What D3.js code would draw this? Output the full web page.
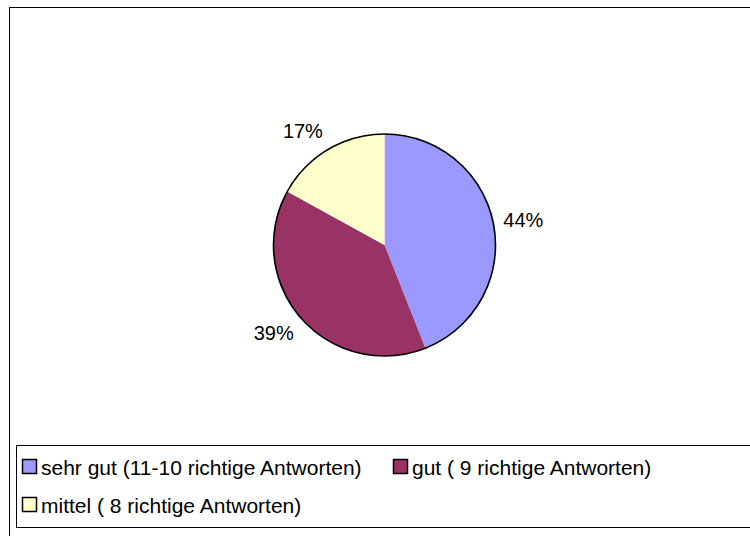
<!DOCTYPE html>
<html>
<head>
<meta charset="utf-8">
<script src="https://cdn.jsdelivr.net/npm/d3@7"></script>
<style>
  html, body { margin: 0; padding: 0; background: #fff; }
  svg { display: block; font-family: "Liberation Sans", Arial, Helvetica, sans-serif; }
</style>
</head>
<body>
<svg id="chart" width="750" height="536"></svg>
<script>
// Ergebnisverteilung (Anteile in Prozent)
const categories = [
  "sehr gut (11-10 richtige Antworten)",
  "gut ( 9 richtige Antworten)",
  "mittel ( 8 richtige Antworten)"
];
const values = [44, 39, 17];
const colors = ["#9999FF", "#993366", "#FFFFCC"];

const svg = d3.select("#chart");

// outer chart frame (runs past the right and bottom edge)
svg.append("rect")
  .attr("x", 9.5).attr("y", 7.5)
  .attr("width", 800).attr("height", 600)
  .attr("fill", "#fff").attr("stroke", "#000").attr("stroke-width", 1);

const cx = 384.5, cy = 245, r = 111;

const data = categories.map((c, i) => ({ name: c, value: values[i], color: colors[i] }));

const pie = d3.pie().value(d => d.value).sort(null);
const arcs = pie(data);
const arc = d3.arc().innerRadius(0).outerRadius(r);

const g = svg.append("g").attr("transform", `translate(${cx},${cy})`);

g.selectAll("path.slice")
  .data(arcs)
  .join("path")
  .attr("class", "slice")
  .attr("d", arc)
  .attr("fill", d => d.data.color)
  .attr("stroke", "none");

// pie outline
g.append("circle")
  .attr("r", r)
  .attr("fill", "none")
  .attr("stroke", "#000")
  .attr("stroke-width", 1.6);

// percentage labels sit just outside the rim, anchored away from the pie
const midAngle = d => (d.startAngle + d.endAngle) / 2;
g.selectAll("text.pct")
  .data(arcs)
  .join("text")
  .attr("class", "pct")
  .attr("x", d => Math.sin(midAngle(d)) * (r + 10))
  .attr("y", d => -Math.cos(midAngle(d)) * (r + 22))
  .attr("text-anchor", d => Math.sin(midAngle(d)) >= 0 ? "start" : "end")
  .attr("dominant-baseline", "central")
  .attr("font-size", 20)
  .attr("fill", "#000")
  .text(d => d.data.value + "%");

// legend box
svg.append("rect")
  .attr("x", 16.5).attr("y", 445.5)
  .attr("width", 800).attr("height", 82)
  .attr("fill", "#fff").attr("stroke", "#000").attr("stroke-width", 1);

const legendPos = [
  { x: 22, y: 467 },
  { x: 393, y: 467 },
  { x: 22, y: 505 }
];

const items = svg.selectAll("g.legend-item")
  .data(data)
  .join("g")
  .attr("class", "legend-item")
  .attr("transform", (d, i) => `translate(${legendPos[i].x},${legendPos[i].y})`);

items.append("rect")
  .attr("x", 0.5).attr("y", -7.5)
  .attr("width", 14).attr("height", 14)
  .attr("fill", d => d.color)
  .attr("stroke", "#000").attr("stroke-width", 1.5);

items.append("text")
  .attr("x", 19)
  .attr("y", 0)
  .attr("dominant-baseline", "central")
  .attr("font-size", 21)
  .attr("fill", "#000")
  .text(d => d.name);
</script>
</body>
</html>
